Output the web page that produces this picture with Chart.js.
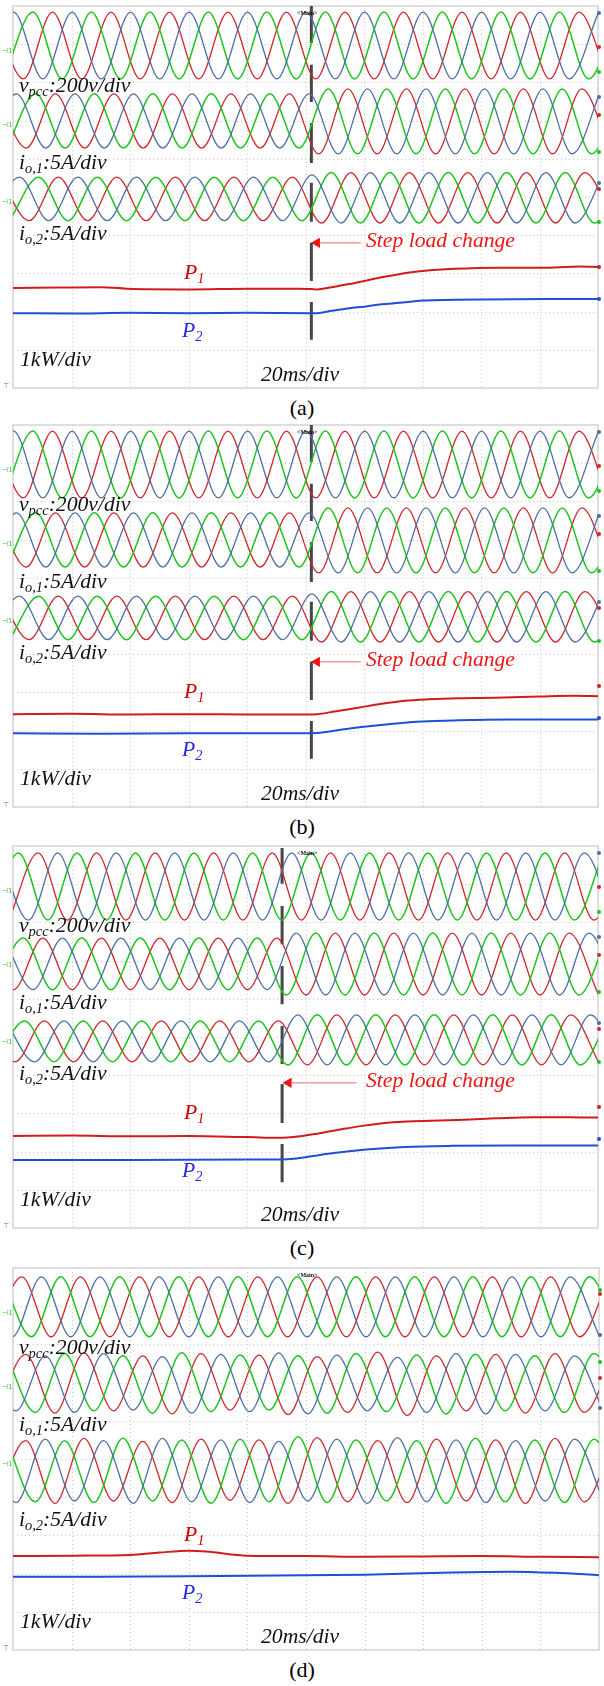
<!DOCTYPE html>
<html>
<head>
<meta charset="utf-8">
<script src="https://cdn.jsdelivr.net/npm/chart.js@4.4.1/dist/chart.umd.min.js"></script>
<style>
  body { margin: 0; background: #fff; width: 604px; height: 1686px; position: relative; overflow: hidden;
         font-family: "Liberation Serif", "Times New Roman", serif; }
  .scope { position: absolute; left: 0; width: 604px; height: 395px; }
  .lbl { position: absolute; white-space: nowrap; font-style: italic; font-size: 21px; line-height: 1;
         transform: scaleX(1.03); transform-origin: 0 0; color: #111; z-index: 2; }
  .lbl .s { font-size: 14px; position: relative; top: 4px; }
  .tiny { font-style: normal; font-size: 6px; font-weight: bold; transform: none; }
  .cap { position: absolute; left: 0; width: 604px; text-align: center; font-size: 21px; line-height: 1;
         transform: scaleX(1.05); color: #000; }
</style>
</head>
<body>
<script>
// 🔹 Scope traces
// time in ms (0..200, 20 ms/div), level in screen divisions above the bottom edge (0..10)
// waveforms are stored as their peaks/troughs, the line is drawn through them by Chart.js

// (a) and (b) — step load change at ~102 ms
const aVpccR = [[-6.5,9.84],[3.5,8.09],[13.5,9.84],[23.5,8.09],[33.5,9.84],[43.5,8.09],[53.5,9.84],[63.5,8.09],[73.5,9.84],[83.5,8.09],[93.5,9.84],[103.5,8.09],[113.5,9.84],[123.5,8.09],[133.5,9.84],[143.5,8.09],[153.5,9.84],[163.5,8.09],[173.5,9.84],[183.5,8.09],[193.5,9.84],[203.5,8.09]];
const aVpccB = [[-9.8,8.09],[0.2,9.84],[10.2,8.09],[20.2,9.84],[30.2,8.09],[40.2,9.84],[50.2,8.09],[60.2,9.84],[70.2,8.09],[80.2,9.84],[90.2,8.09],[100.2,9.84],[110.2,8.09],[120.2,9.84],[130.2,8.09],[140.2,9.84],[150.2,8.09],[160.2,9.84],[170.2,8.09],[180.2,9.84],[190.2,8.09],[200.2,9.84]];
const aVpccG = [[-3.2,8.09],[6.8,9.84],[16.8,8.09],[26.8,9.84],[36.8,8.09],[46.8,9.84],[56.8,8.09],[66.8,9.84],[76.8,8.09],[86.8,9.84],[96.8,8.09],[106.8,9.84],[116.8,8.09],[126.8,9.84],[136.8,8.09],[146.8,9.84],[156.8,8.09],[166.8,9.84],[176.8,8.09],[186.8,9.84],[196.8,8.09],[206.8,9.84]];

const aIo1R = [[-5.5,7.70],[4.5,6.28],[14.5,7.70],[24.5,6.28],[34.5,7.70],[44.5,6.28],[54.5,7.70],[64.5,6.28],[74.5,7.70],[84.5,6.28],[94.5,7.70],[104.5,6.13],[114.5,7.83],[124.5,6.13],[134.5,7.83],[144.5,6.13],[154.5,7.83],[164.5,6.13],[174.5,7.83],[184.5,6.13],[194.5,7.83],[204.5,6.13]];
const aIo1B = [[-8.8,6.28],[1.2,7.70],[11.2,6.28],[21.2,7.70],[31.2,6.28],[41.2,7.70],[51.2,6.28],[61.2,7.70],[71.2,6.28],[81.2,7.70],[91.2,6.28],[101.2,7.70],[111.2,6.13],[121.2,7.83],[131.2,6.13],[141.2,7.83],[151.2,6.13],[161.2,7.83],[171.2,6.13],[181.2,7.83],[191.2,6.13],[201.2,7.83]];
const aIo1G = [[-2.2,6.28],[7.8,7.70],[17.8,6.28],[27.8,7.70],[37.8,6.28],[47.8,7.70],[57.8,6.28],[67.8,7.70],[77.8,6.28],[87.8,7.70],[97.8,6.28],[107.8,7.83],[117.8,6.13],[127.8,7.83],[137.8,6.13],[147.8,7.83],[157.8,6.13],[167.8,7.83],[177.8,6.13],[187.8,7.83],[197.8,6.13],[207.8,7.83]];

const aIo2R = [[-4.5,5.52],[5.5,4.38],[15.5,5.52],[25.5,4.38],[35.5,5.52],[45.5,4.38],[55.5,5.52],[65.5,4.38],[75.5,5.52],[85.5,4.38],[95.5,5.52],[105.5,4.32],[115.5,5.64],[125.5,4.32],[135.5,5.64],[145.5,4.32],[155.5,5.64],[165.5,4.32],[175.5,5.64],[185.5,4.32],[195.5,5.64],[205.5,4.32]];
const aIo2B = [[-7.8,4.38],[2.2,5.52],[12.2,4.38],[22.2,5.52],[32.2,4.38],[42.2,5.52],[52.2,4.38],[62.2,5.52],[72.2,4.38],[82.2,5.52],[92.2,4.38],[102.2,5.58],[112.2,4.32],[122.2,5.64],[132.2,4.32],[142.2,5.64],[152.2,4.32],[162.2,5.64],[172.2,4.32],[182.2,5.64],[192.2,4.32],[202.2,5.64]];
const aIo2G = [[-1.2,4.38],[8.8,5.52],[18.8,4.38],[28.8,5.52],[38.8,4.38],[48.8,5.52],[58.8,4.38],[68.8,5.52],[78.8,4.38],[88.8,5.52],[98.8,4.38],[108.8,5.64],[118.8,4.32],[128.8,5.64],[138.8,4.32],[148.8,5.64],[158.8,4.32],[168.8,5.64],[178.8,4.32],[188.8,5.64],[198.8,4.32],[208.8,5.64]];

const aP1 = [[0,2.62],[15,2.63],[30,2.64],[41,2.59],[61,2.58],[80,2.60],[98,2.60],[102,2.59],[104,2.58],[109,2.64],[115,2.72],[120,2.80],[126,2.90],[132,2.98],[140,3.06],[151,3.12],[166,3.15],[183,3.15],[194,3.18],[200,3.17]];
const aP2 = [[0,1.96],[20,1.95],[40,1.97],[60,1.96],[80,1.97],[102,1.96],[104,1.96],[109,2.02],[115,2.09],[120,2.13],[126,2.19],[132,2.23],[140,2.29],[151,2.31],[160,2.32],[183,2.33],[200,2.33]];

const bP1 = [[0,2.43],[20,2.44],[40,2.42],[60,2.43],[80,2.42],[100,2.42],[104,2.43],[110,2.50],[118,2.60],[126,2.70],[134,2.78],[142,2.82],[152,2.85],[165,2.86],[180,2.89],[192,2.91],[200,2.90]];
const bP2 = [[0,1.93],[30,1.92],[60,1.93],[100,1.93],[104,1.94],[112,2.02],[120,2.10],[130,2.18],[140,2.24],[152,2.27],[170,2.29],[200,2.29]];

// (c) — step load change at ~92 ms
const cVpccR = [[-1.4,8.06],[8.6,9.82],[18.6,8.06],[28.6,9.82],[38.6,8.06],[48.6,9.82],[58.6,8.06],[68.6,9.82],[78.6,8.06],[88.6,9.82],[98.6,8.06],[108.6,9.82],[118.6,8.06],[128.6,9.82],[138.6,8.06],[148.6,9.82],[158.6,8.06],[168.6,9.82],[178.6,8.06],[188.6,9.82],[198.6,8.06],[208.6,9.82]];
const cVpccB = [[-4.7,9.82],[5.3,8.06],[15.3,9.82],[25.3,8.06],[35.3,9.82],[45.3,8.06],[55.3,9.82],[65.3,8.06],[75.3,9.82],[85.3,8.06],[95.3,9.82],[105.3,8.06],[115.3,9.82],[125.3,8.06],[135.3,9.82],[145.3,8.06],[155.3,9.82],[165.3,8.06],[175.3,9.82],[185.3,8.06],[195.3,9.82],[205.3,8.06]];
const cVpccG = [[-8.1,8.06],[1.9,9.82],[11.9,8.06],[21.9,9.82],[31.9,8.06],[41.9,9.82],[51.9,8.06],[61.9,9.82],[71.9,8.06],[81.9,9.82],[91.9,8.06],[101.9,9.82],[111.9,8.06],[121.9,9.82],[131.9,8.06],[141.9,9.82],[151.9,8.06],[161.9,9.82],[171.9,8.06],[181.9,9.82],[191.9,8.06],[201.9,9.82]];

const cIo1R = [[-9.8,7.59],[0.2,6.24],[10.2,7.59],[20.2,6.24],[30.2,7.59],[40.2,6.24],[50.2,7.59],[60.2,6.24],[70.2,7.59],[80.2,6.24],[90.2,7.59],[100.2,6.10],[110.2,7.72],[120.2,6.10],[130.2,7.72],[140.2,6.10],[150.2,7.72],[160.2,6.10],[170.2,7.72],[180.2,6.10],[190.2,7.72],[200.2,6.10]];
const cIo1B = [[-3.1,7.59],[6.9,6.24],[16.9,7.59],[26.9,6.24],[36.9,7.59],[46.9,6.24],[56.9,7.59],[66.9,6.24],[76.9,7.59],[86.9,6.24],[96.9,7.72],[106.9,6.10],[116.9,7.72],[126.9,6.10],[136.9,7.72],[146.9,6.10],[156.9,7.72],[166.9,6.10],[176.9,7.72],[186.9,6.10],[196.9,7.72],[206.9,6.10]];
const cIo1G = [[-6.5,6.24],[3.5,7.59],[13.5,6.24],[23.5,7.59],[33.5,6.24],[43.5,7.59],[53.5,6.24],[63.5,7.59],[73.5,6.24],[83.5,7.59],[93.5,6.10],[103.5,7.72],[113.5,6.10],[123.5,7.72],[133.5,6.10],[143.5,7.72],[153.5,6.10],[163.5,7.72],[173.5,6.10],[183.5,7.72],[193.5,6.10],[203.5,7.72]];

const cIo2R = [[-9.3,5.42],[0.7,4.35],[10.7,5.42],[20.7,4.35],[30.7,5.42],[40.7,4.35],[50.7,5.42],[60.7,4.35],[70.7,5.42],[80.7,4.35],[90.7,5.42],[100.7,4.27],[110.7,5.58],[120.7,4.27],[130.7,5.58],[140.7,4.27],[150.7,5.58],[160.7,4.27],[170.7,5.58],[180.7,4.27],[190.7,5.58],[200.7,4.27]];
const cIo2B = [[-2.6,5.42],[7.4,4.35],[17.4,5.42],[27.4,4.35],[37.4,5.42],[47.4,4.35],[57.4,5.42],[67.4,4.35],[77.4,5.42],[87.4,4.35],[97.4,5.58],[107.4,4.27],[117.4,5.58],[127.4,4.27],[137.4,5.58],[147.4,4.27],[157.4,5.58],[167.4,4.27],[177.4,5.58],[187.4,4.27],[197.4,5.58],[207.4,4.27]];
const cIo2G = [[-6.0,4.35],[4.0,5.42],[14.0,4.35],[24.0,5.42],[34.0,4.35],[44.0,5.42],[54.0,4.35],[64.0,5.42],[74.0,4.35],[84.0,5.42],[94.0,4.27],[104.0,5.58],[114.0,4.27],[124.0,5.58],[134.0,4.27],[144.0,5.58],[154.0,4.27],[164.0,5.58],[174.0,4.27],[184.0,5.58],[194.0,4.27],[204.0,5.58]];

const cP1 = [[0,2.41],[20,2.42],[40,2.40],[60,2.41],[80,2.38],[92,2.36],[96,2.38],[104,2.47],[112,2.58],[120,2.68],[130,2.77],[140,2.80],[152,2.83],[165,2.87],[178,2.90],[190,2.90],[200,2.89]];
const cP2 = [[0,1.78],[40,1.78],[80,1.79],[92,1.79],[96,1.81],[104,1.90],[112,1.98],[122,2.06],[134,2.12],[150,2.15],[170,2.16],[200,2.16]];

// (d) — no load change, distorted currents
const dVpccR = [[-7.0,8.20],[3.0,9.77],[13.0,8.20],[23.0,9.77],[33.1,8.20],[43.2,9.77],[53.3,8.20],[63.4,9.77],[73.5,8.20],[83.6,9.77],[93.7,8.20],[103.8,9.77],[113.8,8.20],[123.8,9.77],[133.8,8.20],[143.8,9.77],[153.7,8.20],[163.6,9.77],[173.5,8.20],[183.5,9.77],[193.5,8.20],[203.5,9.77]];
const dVpccB = [[-10.3,9.77],[-0.3,8.20],[9.7,9.77],[19.7,8.20],[29.7,9.77],[39.8,8.20],[49.9,9.77],[60.0,8.20],[70.1,9.77],[80.2,8.20],[90.3,9.77],[100.4,8.20],[110.5,9.77],[120.5,8.20],[130.5,9.77],[140.5,8.20],[150.5,9.77],[160.4,8.20],[170.3,9.77],[180.2,8.20],[190.2,9.77],[200.2,8.20]];
const dVpccG = [[-3.7,9.77],[6.3,8.20],[16.3,9.77],[26.3,8.20],[36.4,9.77],[46.5,8.20],[56.6,9.77],[66.7,8.20],[76.8,9.77],[86.9,8.20],[97.0,9.77],[107.1,8.20],[117.1,9.77],[127.1,8.20],[137.1,9.77],[147.1,8.20],[157.0,9.77],[166.9,8.20],[176.8,9.77],[186.8,8.20],[196.8,9.77],[206.8,8.20]];

const dIo1R = [[-5.7,6.24],[4.3,7.74],[14.3,6.20],[24.2,7.78],[34.3,6.26],[44.3,7.70],[54.3,6.18],[64.2,7.76],[74.1,6.28],[84.0,7.72],[93.9,6.16],[103.8,7.68],[114.2,6.22],[124.5,7.80],[134.5,6.14],[144.5,7.70],[154.7,6.26],[164.8,7.74],[174.9,6.20],[185.0,7.76],[195.0,6.22],[205.0,7.72]];
const dIo1B = [[-9.0,7.72],[1.0,6.26],[11.0,7.70],[21.0,6.22],[30.9,7.76],[41.0,6.28],[51.0,7.68],[61.0,6.20],[70.9,7.74],[80.8,6.24],[90.7,7.78],[100.6,6.18],[110.5,7.72],[120.9,6.26],[131.2,7.66],[141.2,6.22],[151.2,7.76],[161.4,6.18],[171.5,7.74],[181.6,6.26],[191.7,7.70],[201.7,6.22]];
const dIo1G = [[-2.4,7.74],[7.6,6.22],[17.6,7.76],[27.6,6.26],[37.5,7.70],[47.6,6.20],[57.6,7.78],[67.6,6.24],[77.5,7.72],[87.4,6.28],[97.3,7.70],[107.2,6.20],[117.1,7.76],[127.5,6.24],[137.8,7.72],[147.8,6.18],[157.8,7.74],[168.0,6.26],[178.1,7.70],[188.2,6.22],[198.3,7.76],[208.3,6.24]];

const dIo2R = [[-5.7,3.88],[4.3,5.48],[14.3,3.84],[24.2,5.54],[34.3,3.90],[44.3,5.46],[54.3,3.86],[64.2,5.52],[74.1,3.92],[84.0,5.50],[93.9,3.84],[103.8,5.56],[114.2,3.88],[124.5,5.48],[134.5,3.86],[144.5,5.52],[154.7,3.90],[164.8,5.50],[174.9,3.84],[185.0,5.54],[195.0,3.88],[205.0,5.50]];
const dIo2B = [[-9.0,5.50],[1.0,3.86],[11.0,5.52],[21.0,3.90],[30.9,5.48],[41.0,3.84],[51.0,5.54],[61.0,3.88],[70.9,5.50],[80.8,3.86],[90.7,5.46],[100.6,3.90],[110.5,5.52],[120.9,3.84],[131.2,5.56],[141.2,3.88],[151.2,5.50],[161.4,3.86],[171.5,5.48],[181.6,3.90],[191.7,5.52],[201.7,3.86]];
const dIo2G = [[-2.4,5.52],[7.6,3.88],[17.6,5.48],[27.6,3.86],[37.5,5.54],[47.6,3.90],[57.6,5.50],[67.6,3.84],[77.5,5.52],[87.4,3.88],[97.3,5.58],[107.2,3.86],[117.1,5.50],[127.5,3.90],[137.8,5.48],[147.8,3.84],[157.8,5.54],[168.0,3.88],[178.1,5.50],[188.2,3.86],[198.3,5.52],[208.3,3.88]];

const dP1 = [[0,2.46],[20,2.47],[40,2.49],[50,2.55],[60,2.60],[66,2.58],[80,2.47],[100,2.46],[120,2.44],[140,2.45],[160,2.46],[180,2.44],[200,2.43]];
const dP2 = [[0,1.92],[30,1.92],[60,1.93],[90,1.95],[120,1.97],[150,2.03],[170,2.05],[185,2.02],[200,1.96]];

// 🔹 Colours
const RED = "#d0262c", GREEN = "#1ec41e", BLUE = "#4d6fa6", P1RED = "#d01c1c", P2BLUE = "#1f4fd6";

// 🔹 Panel setup (frame top in page px, step time in ms)
const marksABC = [[7, BLUE], [41, RED], [66, GREEN], [91, BLUE], [109, RED], [146, GREEN], [177, BLUE], [183, RED], [216, GREEN], [261, P1RED], [293, P2BLUE]];
const panels = [
    { tag: "a", top: 6, step: 102, waves: [[aVpccR, aVpccB, aVpccG], [aIo1R, aIo1B, aIo1G], [aIo2R, aIo2B, aIo2G]], p1: aP1, p2: aP2,
      bars: [[10.0, 9.03], [8.46, 7.49], [6.94, 5.89], [5.37, 4.35], [3.80, 2.80], [2.25, 1.26]], arrow: [118.9, 103.9, 3.80], io2Label: 235, marks: marksABC },
    { tag: "b", top: 425, step: 102, waves: [[aVpccR, aVpccB, aVpccG], [aIo1R, aIo1B, aIo1G], [aIo2R, aIo2B, aIo2G]], p1: bP1, p2: bP2,
      bars: [[10.0, 9.03], [8.46, 7.49], [6.94, 5.89], [5.37, 4.35], [3.80, 2.80], [2.25, 1.26]], arrow: [118.9, 103.9, 3.80], io2Label: 235, marks: marksABC },
    { tag: "c", top: 846, step: 92, waves: [[cVpccR, cVpccB, cVpccG], [cIo1R, cIo1B, cIo1G], [cIo2R, cIo2B, cIo2G]], p1: cP1, p2: cP2,
      bars: [[9.95, 9.01], [8.43, 7.43], [6.86, 5.86], [5.29, 4.29], [3.77, 2.75], [2.20, 1.20]], arrow: [117.5, 94.2, 3.80], io2Label: 235, marks: marksABC },
    { tag: "d", top: 1268, step: null, waves: [[dVpccR, dVpccB, dVpccG], [dIo1R, dIo1B, dIo1G], [dIo2R, dIo2B, dIo2G]], p1: dP1, p2: dP2,
      bars: null, arrow: null, io2Label: 259, marks: [[22, GREEN], [26, RED], [67, BLUE], [94, GREEN], [110, RED], [140, BLUE]] }
];

// 🔹 Dotted scope grid, frame and channel marks
const scopeGrid = {
    id: "scopeGrid",
    beforeDatasetsDraw(chart) {
        const { ctx, chartArea: a, scales: { x, y } } = chart;
        ctx.save();
        ctx.strokeStyle = "#c9c9c9";
        ctx.lineWidth = 1;
        ctx.setLineDash([1, 3]);
        for (let t = 20; t < 200; t += 20) {
            const px = Math.round(x.getPixelForValue(t)) + 0.5;
            ctx.beginPath(); ctx.moveTo(px, a.top); ctx.lineTo(px, a.bottom); ctx.stroke();
        }
        for (let d = 1; d < 10; d++) {
            const py = Math.round(y.getPixelForValue(d)) + 0.5;
            ctx.beginPath(); ctx.moveTo(a.left, py); ctx.lineTo(a.right, py); ctx.stroke();
        }
        ctx.setLineDash([]);
        ctx.strokeStyle = "#d4d4d4";
        ctx.lineWidth = 1.5;
        ctx.strokeRect(a.left, a.top, a.right - a.left, a.bottom - a.top);
        ctx.restore();
    },
    afterDatasetsDraw(chart, args, opts) {
        const { ctx, chartArea: a } = chart;
        ctx.save();
        (opts.marks || []).forEach(([dy, c]) => {
            ctx.fillStyle = c;
            ctx.beginPath(); ctx.arc(a.right + 1, a.top + dy, 2, 0, Math.PI * 2); ctx.fill();
        });
        // little channel-zero tags on the left edge
        ctx.fillStyle = "#3cc43c";
        ctx.font = "7px 'DejaVu Sans'";
        [44, 118, 195].forEach(dy => ctx.fillText("⊣1", 2, a.top + dy + 3));
        ctx.fillStyle = "#4d6fa6";
        ctx.fillText("⊤", 3, a.bottom);
        ctx.restore();
    }
};

const trace = (pts, color, width) => ({
    data: pts.map(p => ({ x: p[0], y: p[1] })),
    borderColor: color, borderWidth: width, pointRadius: 0,
    cubicInterpolationMode: "monotone", fill: false
});

function addText(html, x, baseline, cls, extra) {
    const el = document.createElement("div");
    el.className = cls || "lbl";
    el.innerHTML = html;
    const fs = cls && cls.includes("tiny") ? 6 : 21;
    el.style.left = x + "px";
    el.style.top = (baseline - 0.8375 * fs) + "px";
    if (extra) Object.assign(el.style, extra);
    document.body.appendChild(el);
}

function buildPanel(p) {
    const wrap = document.createElement("div");
    wrap.className = "scope";
    wrap.style.top = (p.top - 6) + "px";
    const cv = document.createElement("canvas");
    cv.width = 604; cv.height = 395;
    wrap.appendChild(cv);
    document.body.appendChild(wrap);

    const datasets = [];
    p.waves.forEach(([r, b, g]) => {
        datasets.push(trace(b, BLUE, 1.3), trace(g, GREEN, 1.5), trace(r, RED, 1.3));
    });
    datasets.push(trace(p.p1, P1RED, 2), trace(p.p2, P2BLUE, 2));

    if (p.bars) {
        const pts = [];
        p.bars.forEach(([y0, y1]) => { pts.push({ x: p.step, y: y0 }, { x: p.step, y: y1 }, { x: p.step, y: null }); });
        datasets.push({ data: pts, borderColor: "#474747", borderWidth: 3, pointRadius: 0, tension: 0, spanGaps: false, borderCapStyle: "butt" });
    }
    if (p.arrow) {
        const [from, head, lvl] = p.arrow;
        datasets.push({
            data: [{ x: from, y: lvl }, { x: head, y: lvl }],
            borderColor: "#f39a9a", borderWidth: 1.5, tension: 0,
            pointRadius: [0, 6], pointStyle: "triangle", rotation: 270,
            pointBackgroundColor: "#f01414", pointBorderColor: "#f01414", pointBorderWidth: 0
        });
    }

    new Chart(cv, {
        type: "line",
        data: { datasets },
        options: {
            responsive: false, animation: false, devicePixelRatio: 1,
            layout: { padding: { left: 13, right: 5, top: 6, bottom: 7 } },
            scales: {
                x: { type: "linear", min: 0, max: 200, display: false },
                y: { type: "linear", min: 0, max: 10, display: false }
            },
            plugins: { legend: { display: false }, tooltip: { enabled: false }, scopeGrid: { marks: p.marks } },
            elements: { point: { radius: 0 } }
        },
        plugins: [scopeGrid]
    });

    // 🔹 Scale texts and captions
    const T = p.top;
    addText('v<span class="s">pcc</span>:200v/div', 19, T + 87);
    addText('i<span class="s">o,1</span>:5A/div', 19, T + 164);
    addText('i<span class="s">o,2</span>:5A/div', 19, T + p.io2Label);
    addText('P<span class="s">1</span>', 184, T + 274, "lbl", { color: "#d20000" });
    addText('P<span class="s">2</span>', 182, T + 332, "lbl", { color: "#2626e6" });
    addText("1kW/div", 20, T + 361);
    addText("20ms/div", 261, T + 376);
    addText("&lt;Main&gt;", 297, T + 9, "lbl tiny");
    if (p.arrow) addText("Step load change", 366, T + 242, "lbl", { color: "#f01414" });

    const cap = document.createElement("div");
    cap.className = "cap";
    cap.textContent = "(" + p.tag + ")";
    cap.style.top = (T + 410 - 0.8375 * 21) + "px";
    document.body.appendChild(cap);
}

panels.forEach(buildPanel);
</script>
</body>
</html>
